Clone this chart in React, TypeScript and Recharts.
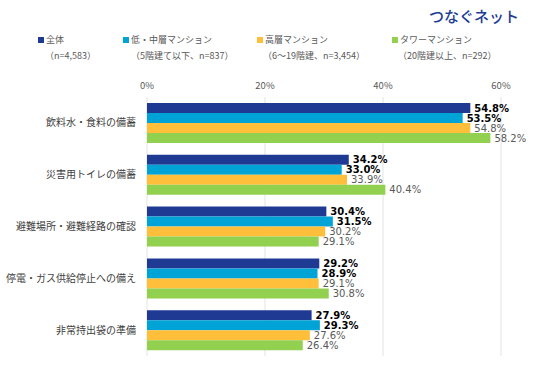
import React from 'react';
import { BarChart, Bar, XAxis, YAxis, CartesianGrid, LabelList } from 'recharts';

const categories = ['飲料水・食料の備蓄', '災害用トイレの備蓄', '避難場所・避難経路の確認', '停電・ガス供給停止への備え', '非常持出袋の準備'];
const allValues = [54.8, 34.2, 30.4, 29.2, 27.9];
const lowMidValues = [53.5, 33.0, 31.5, 28.9, 29.3];
const highValues = [54.8, 33.9, 30.2, 29.1, 27.6];
const towerValues = [58.2, 40.4, 29.1, 30.8, 26.4];
const xTicks = [0, 20, 40, 60];

const seriesNames = ['全体', '低・中層マンション', '高層マンション', 'タワーマンション'];
const seriesNotes = ['（n=4,583）', '（5階建て以下、n=837）', '（6～19階建、n=3,454）', '（20階建以上、n=292）'];
const seriesKeys = ['all', 'lowMid', 'high', 'tower'];
const colors = ['#1f3a93', '#00a3d5', '#ffbf3a', '#92d050'];
const labelColors = ['#000000', '#000000', '#595959', '#595959'];
const labelWeights = ['bold', 'bold', 'normal', 'normal'];

const data = categories.map((c, i) => ({
  name: c,
  all: allValues[i],
  lowMid: lowMidValues[i],
  high: highValues[i],
  tower: towerValues[i],
}));

const FONT = '"Noto Sans CJK JP", "Noto Sans", sans-serif';
const NUMFONT = '"DejaVu Sans", Verdana, sans-serif';
const legendX = [38, 123, 257, 392];
const noteX = [45, 131, 263, 398];

export default function App() {
  return (
    <div style={{ position: 'absolute', left: 0, top: 0, width: 536, height: 366, background: '#fff', fontFamily: FONT }}>
      <div style={{ position: 'absolute', left: 429, top: 6, fontSize: 15, lineHeight: '20px', color: '#1d3c96', fontFamily: FONT, fontWeight: 500, whiteSpace: 'nowrap' }}>
        つなぐネット
      </div>
      {seriesNames.map((n, i) => (
        <React.Fragment key={n}>
          <div style={{ position: 'absolute', left: legendX[i], top: 33, height: 14, lineHeight: '14px', fontSize: 9, color: '#595959', whiteSpace: 'nowrap', display: 'flex', alignItems: 'center' }}>
            <span style={{ display: 'inline-block', width: 6, height: 6, background: colors[i], marginRight: 2 }} />
            {n}
          </div>
          <div style={{ position: 'absolute', left: noteX[i], top: 49, height: 14, lineHeight: '14px', fontSize: 9, color: '#595959', whiteSpace: 'nowrap' }}>
            {seriesNotes[i]}
          </div>
        </React.Fragment>
      ))}
      <div style={{ position: 'absolute', left: 0, top: 0 }}>
        <BarChart
          width={536}
          height={366}
          data={data}
          layout="vertical"
          margin={{ top: 70, right: 35, bottom: 10, left: 0 }}
          barCategoryGap={6}
          barGap={0}
        >
          <CartesianGrid horizontal={false} stroke="#e3e3e3" />
          <XAxis
            type="number"
            orientation="top"
            domain={[0, 60]}
            ticks={xTicks}
            tickFormatter={(v: number) => `${v}%`}
            axisLine={false}
            tickLine={false}
            height={27}
            tick={{ fontSize: 9.5, fill: '#595959', fontFamily: FONT }}
          />
          <YAxis
            type="category"
            dataKey="name"
            width={147}
            axisLine={false}
            tickLine={false}
            tickSize={0}
            tickMargin={11}
            tick={{ fontSize: 10, fill: '#404040', fontFamily: FONT }}
          />
          {seriesKeys.map((k, i) => (
            <Bar key={k} dataKey={k} fill={colors[i]} isAnimationActive={false}>
              <LabelList
                dataKey={k}
                position="right"
                offset={4}
                formatter={(v: number) => `${v.toFixed(1)}%`}
                style={{ fontSize: 10, fill: labelColors[i], fontWeight: labelWeights[i] as any, fontFamily: NUMFONT }}
              />
            </Bar>
          ))}
        </BarChart>
      </div>
    </div>
  );
}
